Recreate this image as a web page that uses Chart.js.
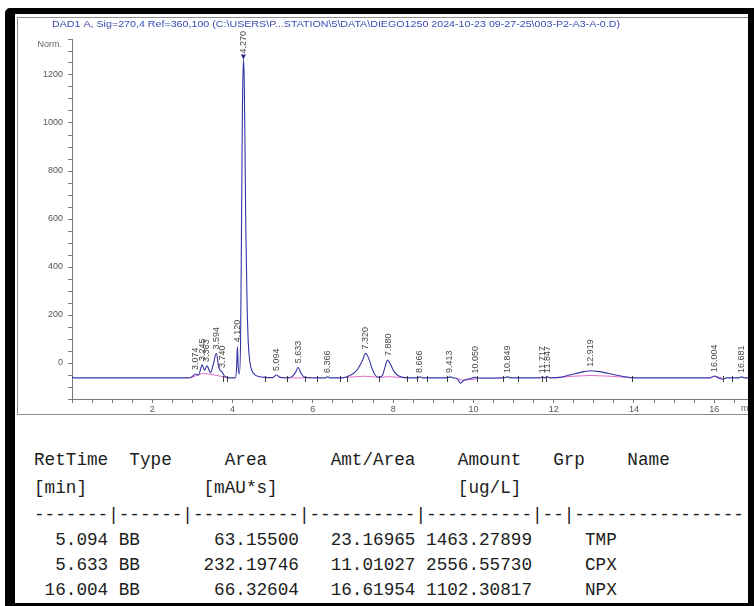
<!DOCTYPE html>
<html>
<head>
<meta charset="utf-8">
<script src="https://cdn.jsdelivr.net/npm/chart.js@4.4.1/dist/chart.umd.min.js"></script>
<style>
  html, body { margin: 0; padding: 0; background: #fff; width: 754px; height: 606px; overflow: hidden; position: relative; }
  #panel { position: absolute; left: 17px; top: 17px; width: 760px; height: 398px; border: 1px solid #8c8c8c; box-sizing: border-box; }
  #chartBox { position: absolute; left: 17px; top: 17px; width: 737px; height: 396px; }
  #edge { position: absolute; left: 5px; top: 8px; width: 749px; height: 598px; box-sizing: border-box;
          border-style: solid; border-color: #000; border-width: 6px 6px 3px 10px; border-top-left-radius: 5px; z-index: 5; pointer-events: none; }
  .line { position: absolute; left: 34px; height: 20px; line-height: 20px; white-space: pre;
          font-family: "Liberation Mono", "DejaVu Sans Mono", monospace; font-size: 17.67px; color: #1c1c1c; }
</style>
</head>
<body>
<div id="panel"></div>
<div id="chartBox"><canvas id="chrom" width="737" height="396"></canvas></div>
<div id="report"></div>
<div id="edge"></div>

<script>
// Detector signal (mAU) against retention time (min)
const traceTime = [
  0.00, 0.03, 2.90, 2.98, 3.074, 3.15, 3.245, 3.30, 3.363, 3.45, 3.52, 3.594, 3.66, 3.740, 3.80, 3.86, 3.95,
  4.07, 4.10, 4.12, 4.14, 4.17, 4.20, 4.22, 4.245, 4.27, 4.29, 4.31, 4.33, 4.36, 4.39, 4.43, 4.48, 4.55, 4.65, 4.80,
  5.00, 5.094, 5.18, 5.35, 5.50, 5.58, 5.633, 5.69, 5.80, 6.10, 6.30, 6.366, 6.45,
  6.68, 6.85, 7.00, 7.12, 7.22, 7.32, 7.40, 7.48, 7.56, 7.65, 7.74, 7.80, 7.86, 7.93, 8.02, 8.12, 8.25, 8.40,
  8.60, 8.666, 8.75, 9.33, 9.413, 9.50, 9.60, 9.68, 9.76, 9.90, 10.05, 10.15, 10.75, 10.849, 10.95,
  11.65, 11.717, 11.78, 11.847, 11.92, 12.15, 12.35, 12.55, 12.75, 12.919, 13.10, 13.35, 13.60, 13.85, 13.96,
  15.90, 16.004, 16.10, 16.21, 16.30, 16.60, 16.681, 16.76, 16.84
];
const traceSignal = [
  -56, -62, -62, -58, -46, -50, -8, -30, -12, -40, -5, 40, -20, -38, -55, -60, -62,
  -62, -20, 70, -15, -45, 100, 500, 1050, 1265, 1180, 900, 560, 260, 90, 5, -30, -48, -56, -60,
  -61, -50, -60, -62, -55, -35, -18, -38, -60, -62, -62, -58, -62,
  -62, -57, -45, -25, 5, 40, 15, -25, -52, -60, -50, -15, 12, -5, -35, -52, -60, -62,
  -62, -58, -62, -62, -58, -62, -66, -84, -72, -66, -60, -63, -62, -58, -62,
  -62, -59, -62, -58, -62, -60, -52, -44, -36, -32, -35, -43, -52, -59, -62,
  -62, -54, -62, -68, -62, -62, -58, -62, -62
];

// Integration baselines (null separates segments)
const baseTime = [
  2.95, 3.10, 3.25, 3.40, 3.55, 3.70, 3.86, null,
  5.35, 5.80, null,
  6.68, 7.00, 7.30, 7.65, 7.90, 8.34, null,
  9.58, 9.75, 10.10, null,
  12.00, 12.50, 12.90, 13.40, 13.96, null,
  15.85, 16.00, 16.20
];
const baseSignal = [
  -62, -52, -44, -46, -50, -55, -62, null,
  -62, -62, null,
  -62, -58, -55, -60, -57, -62, null,
  -64, -72, -66, null,
  -62, -55, -52, -55, -62, null,
  -62, -56, -62
];

// Labelled peak retention times
const peakTimes = [3.074, 3.245, 3.363, 3.594, 3.740, 4.120, 4.270, 5.094, 5.633, 6.366, 7.320, 7.880,
                   8.666, 9.413, 10.050, 10.849, 11.717, 11.847, 12.919, 16.004, 16.681];
const mainPeak = 4.270;

// Peak start / end event marks
const eventMarks = [3.77, 3.86, 4.80, 5.35, 5.80, 6.10, 6.68, 6.84, 7.65, 8.34, 8.60, 8.84, 9.33,
                    10.08, 10.74, 11.11, 11.70, 11.80, 13.96, 16.21, 16.43];
const eventLevel = -62;

// Axis ticks
const xMin = 0, xMax = 16.84, xStep = 0.5, xLabelEvery = 2;
const yMin = -150, yMax = 1350, yStep = 50, yLabelEvery = 200;

const titleText = 'DAD1 A, Sig=270,4 Ref=360,100 (C:\\USERS\\P...STATION\\5\\DATA\\DIEGO1250 2024-10-23 09-27-25\\003-P2-A3-A-0.D)';

// Calibrated compound table
const tableRetTime = ['5.094', '5.633', '16.004'];
const tableType = ['BB', 'BB', 'BB'];
const tableArea = ['63.15500', '232.19746', '66.32604'];
const tableAmtArea = ['23.16965', '11.01027', '16.61954'];
const tableAmount = ['1463.27899', '2556.55730', '1102.30817'];
const tableGrp = ['', '', ''];
const tableName = ['TMP', 'CPX', 'NPX'];

// ---------- report table ----------
function place(parts) {
  let s = '';
  parts.forEach(([col, txt]) => { s = s.padEnd(col) + txt; });
  return s;
}
const reportLines = [
  place([[0, 'RetTime'], [9, 'Type'], [18, 'Area'], [28, 'Amt/Area'], [40, 'Amount'], [49, 'Grp'], [56, 'Name']]),
  place([[0, '[min]'], [16, '[mAU*s]'], [40, '[ug/L]']]),
  '-------|------|----------|----------|----------|--|----------------'
];
tableRetTime.forEach((rt, i) => {
  reportLines.push(
    rt.padStart(7) + ' ' + tableType[i].padEnd(6) + ' ' + tableArea[i].padStart(10) + ' ' +
    tableAmtArea[i].padStart(10) + ' ' + tableAmount[i].padStart(10) + ' ' + tableGrp[i].padEnd(2) + ' ' + ' ' + tableName[i]
  );
});
const lineCentres = [460, 488, 515, 540, 565, 590];
const report = document.getElementById('report');
reportLines.forEach((txt, i) => {
  const d = document.createElement('div');
  d.className = 'line';
  d.style.top = (lineCentres[i] - 10) + 'px';
  d.textContent = txt;
  report.appendChild(d);
});

// ---------- chromatogram ----------
const tracePts = traceTime.map((t, i) => ({ x: t, y: traceSignal[i] }));
const basePts = [];
baseTime.forEach((t, i) => {
  if (t === null) basePts.push({ x: baseTime[i - 1], y: null });
  else basePts.push({ x: t, y: baseSignal[i] });
});

function apexNear(t) {
  let best = null;
  traceTime.forEach((tt, i) => {
    if (Math.abs(tt - t) <= 0.035) best = best === null ? traceSignal[i] : Math.max(best, traceSignal[i]);
  });
  if (best !== null) return best;
  for (let i = 1; i < traceTime.length; i++) {
    if (traceTime[i] >= t) {
      const f = (t - traceTime[i - 1]) / (traceTime[i] - traceTime[i - 1]);
      return traceSignal[i - 1] + f * (traceSignal[i] - traceSignal[i - 1]);
    }
  }
  return traceSignal[traceSignal.length - 1];
}

const FONT = '"Liberation Sans", Arial, sans-serif';
Chart.defaults.font.family = FONT;

const annotations = {
  id: 'annotations',
  afterDatasetsDraw(chart) {
    const { ctx, scales: { x, y }, chartArea } = chart;
    ctx.save();

    // event marks
    ctx.strokeStyle = '#3a3a3a';
    ctx.lineWidth = 1;
    const by = Math.round(y.getPixelForValue(eventLevel));
    eventMarks.forEach(t => {
      const px = Math.round(x.getPixelForValue(t)) + 0.5;
      ctx.beginPath(); ctx.moveTo(px, by - 2); ctx.lineTo(px, by + 4); ctx.stroke();
    });

    // peak labels
    ctx.font = '9px ' + FONT;
    ctx.fillStyle = '#484848';
    ctx.textAlign = 'left';
    ctx.textBaseline = 'middle';
    peakTimes.forEach(t => {
      const px = x.getPixelForValue(t);
      const apex = y.getPixelForValue(apexNear(t));
      const gap = t === mainPeak ? 6 : 4;
      ctx.save();
      ctx.translate(px, apex - gap);
      ctx.rotate(-Math.PI / 2);
      ctx.fillText(t.toFixed(3), 0, 0);
      ctx.restore();
    });

    // apex marker on the main peak
    const mx = x.getPixelForValue(mainPeak);
    const my = y.getPixelForValue(apexNear(mainPeak));
    ctx.fillStyle = '#2a2a8c';
    ctx.beginPath();
    ctx.moveTo(mx - 2.5, my - 5); ctx.lineTo(mx + 2.5, my - 5); ctx.lineTo(mx, my); ctx.closePath(); ctx.fill();

    // title
    ctx.font = '10px ' + FONT;
    ctx.fillStyle = '#3a4cb4';
    ctx.textBaseline = 'middle';
    const w = ctx.measureText(titleText).width;
    ctx.save();
    ctx.translate(35, 8);
    ctx.scale(568 / w, 0.85);
    ctx.fillText(titleText, 0, 0);
    ctx.restore();

    // axis unit labels
    ctx.font = '9px ' + FONT;
    ctx.fillStyle = '#666';
    ctx.textAlign = 'right';
    ctx.fillText('Norm.', chartArea.left - 10, chartArea.top + 6);
    ctx.textAlign = 'left';
    ctx.fillText('min', chartArea.right - 7, chartArea.bottom + 10);

    ctx.restore();
  }
};

new Chart(document.getElementById('chrom'), {
  type: 'scatter',
  data: {
    datasets: [
      { data: tracePts, showLine: true, borderColor: '#3535a8', borderWidth: 1.1, pointRadius: 0,
        cubicInterpolationMode: 'monotone', order: 0 },
      { data: basePts, showLine: true, borderColor: '#e06ccf', borderWidth: 1, pointRadius: 0,
        spanGaps: false, order: 1 }
    ]
  },
  options: {
    responsive: false,
    animation: false,
    devicePixelRatio: 1,
    layout: { padding: { top: 22, right: 6, left: 0, bottom: 0 } },
    plugins: { legend: { display: false }, tooltip: { enabled: false }, title: { display: false } },
    scales: {
      x: {
        type: 'linear', min: xMin, max: xMax,
        afterFit: s => { s.height = 14; },
        border: { color: '#7a7a7a' },
        grid: { drawOnChartArea: false, tickLength: 4, tickColor: '#7a7a7a' },
        ticks: {
          stepSize: xStep, autoSkip: false, maxRotation: 0, includeBounds: false, padding: 1,
          color: '#555', font: { size: 9 },
          callback: v => { const r = Math.round(v * 2) / 2; return (r >= xLabelEvery && r % xLabelEvery === 0) ? String(r) : ''; }
        }
      },
      y: {
        type: 'linear', min: yMin, max: yMax,
        afterFit: s => { s.width = 55; },
        border: { color: '#7a7a7a' },
        grid: { drawOnChartArea: false, tickLength: 4, tickColor: '#7a7a7a' },
        ticks: {
          stepSize: yStep, autoSkip: false, includeBounds: false, padding: 5,
          color: '#555', font: { size: 9 },
          callback: v => (v >= 0 && v % yLabelEvery === 0) ? String(v) : ''
        }
      }
    }
  },
  plugins: [annotations]
});
</script>
</body>
</html>
